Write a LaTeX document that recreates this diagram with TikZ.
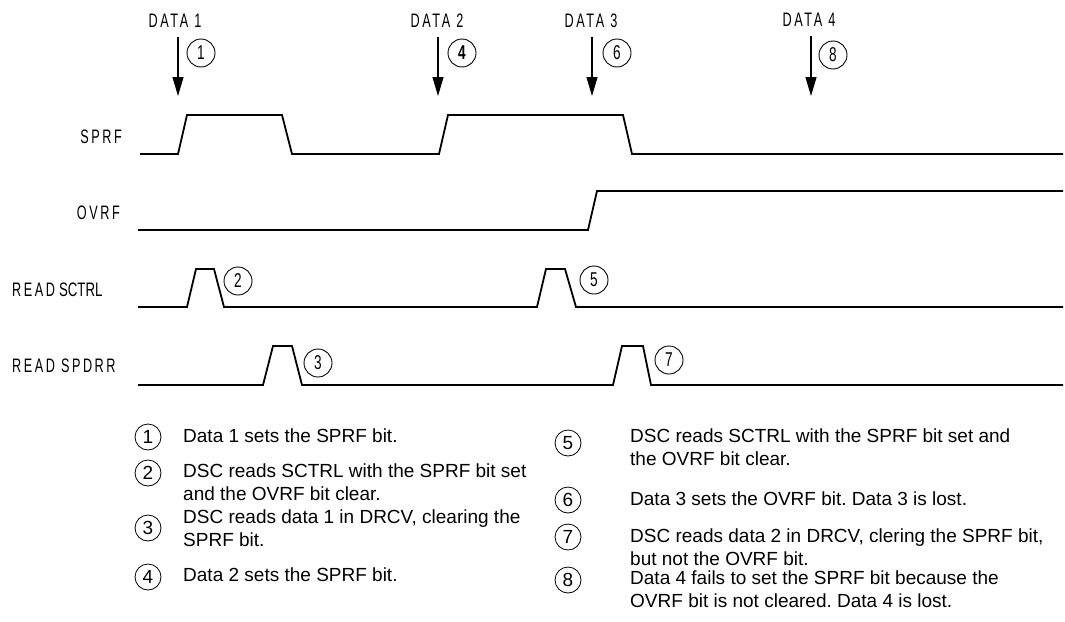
\documentclass[tikz,border=0pt]{standalone}
\usepackage{fontspec}
\setmainfont{Liberation Sans}
\newfontfamily\sigfont[FakeStretch=0.65,LetterSpace=13]{Liberation Sans}
\newfontfamily\sigtight[FakeStretch=0.68]{Liberation Sans}
\usetikzlibrary{arrows.meta}
\frenchspacing

\tikzset{
  wave/.style={line width=1.8pt, line join=miter},
  num/.style={circle, draw, line width=0.9pt, minimum size=28pt, inner sep=0pt,
    font=\sigtight\fontsize{20}{20}\selectfont},
  key/.style={circle, draw, line width=0.8pt, minimum size=26pt, inner sep=0pt,
    font=\fontsize{19}{19}\selectfont},
  sig/.style={inner sep=0pt, font=\sigfont\fontsize{19.5}{19.5}\selectfont},
  note/.style={anchor=west, align=left, inner sep=0pt,
    font=\fontsize{19}{22.5}\selectfont},
  tick/.style={line width=1.2pt, -{Triangle[width=11pt,length=19pt]}}
}

\begin{document}
\begin{tikzpicture}[x=1pt, y=-1pt]
  \useasboundingbox (0,0) rectangle (1065,621);

  % data strobes
  \node[sig] (d1) at (175,21) {DATA 1};
  \node[sig] (d2) at (437,21) {DATA 2};
  \node[sig] (d3) at (591,21) {DATA 3};
  \node[sig] (d4) at (809,20) {DATA 4};
  \coordinate (t1) at (178,96);
  \coordinate (t2) at (438,96);
  \coordinate (t3) at (592,96);
  \coordinate (t4) at (811,96);
  \draw[tick, shorten <=9pt] (d1.south -| t1) -- (t1);
  \draw[tick, shorten <=9pt] (d2.south -| t2) -- (t2);
  \draw[tick, shorten <=9pt] (d3.south -| t3) -- (t3);
  \draw[tick, shorten <=9pt] (d4.south -| t4) -- (t4);
  \node[num] (c1) at (201,53) {1};
  \node[num] (c4) at (462,53) {\bfseries 4};
  \node[num] (c6) at (617,53) {6};
  \node[num] (c8) at (833,55) {8};

  % signal names
  \node[sig, anchor=east] (sprf) at (122,137) {SPRF};
  \node[sig, anchor=east] (ovrf) at (120,213) {OVRF};
  \node[sig, anchor=west] (rsctrl) at (12,290) {READ\hspace{4pt}{\sigtight SCTRL}};
  \node[sig, anchor=west] (rspdrr) at (12,366) {READ SPDRR};

  % waveforms
  \draw[wave] (140,154) -- (178,154) -- (187,115) -- (282,115) -- (292,154)
    -- (439,154) -- (448,115) -- (623,115) -- (632,154) -- (1063,154);
  \draw[wave] (138,230) -- (588,230) -- (597,191) -- (1063,191);
  \draw[wave] (138,307) -- (187,307) -- (196,269) -- (214,269) -- (224,307)
    -- (537,307) -- (546,269) -- (565,269) -- (576,307) -- (1063,307);
  \draw[wave] (138,385) -- (263,385) -- (273,346) -- (292,346) -- (302,385)
    -- (613,385) -- (622,346) -- (643,346) -- (651,385) -- (1063,385);
  \node[num] (c2) at (238,281) {2};
  \node[num] (c3) at (318,363) {3};
  \node[num] (c5) at (594,280) {5};
  \node[num] (c7) at (669,360) {7};

  % legend
  \node[key] (k1) at (148,437) {1};
  \node[key] (k2) at (148,473) {2};
  \node[key] (k3) at (148,528) {3};
  \node[key] (k4) at (148,577) {4};
  \node[note] (n1) at (183,436) {Data 1 sets the SPRF bit.};
  \node[note] (n2) at (183,482) {DSC reads SCTRL with the SPRF bit set\\and the OVRF bit clear.};
  \node[note] (n3) at (183,528) {DSC reads data 1 in DRCV, clearing the\\SPRF bit.};
  \node[note] (n4) at (183,575) {Data 2 sets the SPRF bit.};

  \node[key] (k5) at (568,443) {5};
  \node[key] (k6) at (568,500) {6};
  \node[key] (k7) at (568,537) {7};
  \node[key] (k8) at (568,580) {8};
  \node[note] (n5) at (630,447) {DSC reads SCTRL with the SPRF bit set and\\the OVRF bit clear.};
  \node[note] (n6) at (630,499) {Data 3 sets the OVRF bit. Data 3 is lost.};
  \node[note] (n7) at (630,547) {DSC reads data 2 in DRCV, clering the SPRF bit,\\but not the OVRF bit.};
  \node[note] (n8) at (630,589) {Data 4 fails to set the SPRF bit because the\\OVRF bit is not cleared. Data 4 is lost.};
\end{tikzpicture}
\end{document}
